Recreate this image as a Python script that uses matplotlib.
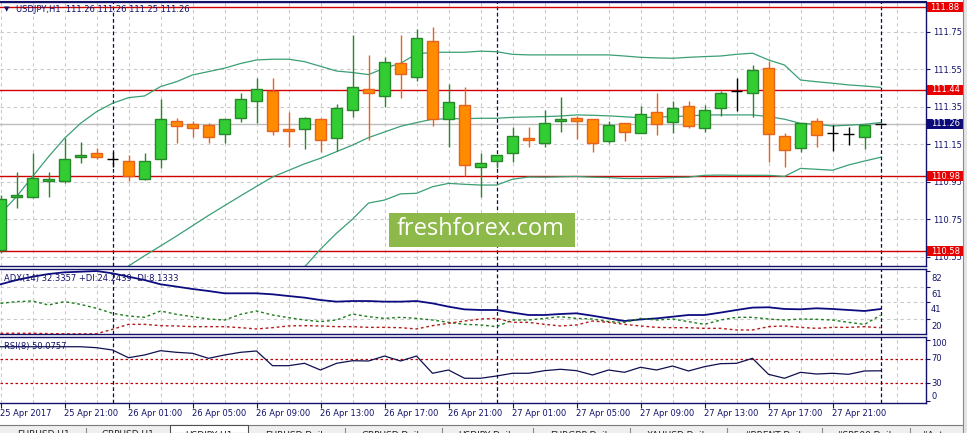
import numpy as np
import matplotlib
matplotlib.use("Agg")
import matplotlib.pyplot as plt
import matplotlib.transforms as mtransforms
from matplotlib.patches import Rectangle
from matplotlib.lines import Line2D

# ---------------- data ----------------
opens = [110.585, 110.866, 110.866, 110.955, 110.955, 111.080, 111.101, 111.069, 111.058, 110.966,
         111.069, 111.272, 111.259, 111.250, 111.203, 111.288, 111.379, 111.434, 111.231, 111.229,
         111.284, 111.181, 111.331, 111.443, 111.409, 111.581, 111.510, 111.702, 111.283, 111.361,
         111.026, 111.058, 111.101, 111.183, 111.158, 111.272, 111.288, 111.283, 111.169, 111.261,
         111.208, 111.322, 111.270, 111.352, 111.238, 111.341, 111.435, 111.421, 111.555, 111.194,
         111.128, 111.274, 111.208, 111.204, 111.190, 111.260]
highs = [110.880, 111.003, 111.105, 111.003, 111.185, 111.160, 111.130, 111.110, 111.092, 111.103,
         111.391, 111.290, 111.274, 111.261, 111.283, 111.423, 111.501, 111.501, 111.322, 111.297,
         111.291, 111.364, 111.732, 111.626, 111.613, 111.732, 111.763, 111.777, 111.471, 111.453,
         111.101, 111.092, 111.242, 111.242, 111.332, 111.400, 111.299, 111.283, 111.272, 111.261,
         111.354, 111.425, 111.380, 111.380, 111.359, 111.434, 111.505, 111.572, 111.596, 111.208,
         111.261, 111.291, 111.250, 111.243, 111.250, 111.263]
lows = [110.570, 110.808, 110.862, 110.866, 110.945, 111.048, 111.069, 111.026, 110.955, 110.960,
        111.025, 111.158, 111.190, 111.158, 111.158, 111.270, 111.261, 111.201, 111.137, 111.126,
        111.110, 111.115, 111.297, 111.172, 111.350, 111.398, 111.487, 111.247, 111.137, 110.980,
        110.870, 111.021, 111.057, 111.137, 111.137, 111.217, 111.180, 111.110, 111.158, 111.169,
        111.208, 111.199, 111.208, 111.238, 111.217, 111.300, 111.327, 111.297, 111.057, 111.026,
        111.110, 111.137, 111.115, 111.146, 111.126, 111.255]
closes = [110.858, 110.879, 110.968, 110.966, 111.069, 111.090, 111.080, 111.069, 110.979, 111.058,
          111.283, 111.249, 111.238, 111.190, 111.283, 111.390, 111.443, 111.219, 111.219, 111.288,
          111.171, 111.341, 111.453, 111.421, 111.590, 111.523, 111.715, 111.286, 111.373, 111.037,
          111.048, 111.090, 111.192, 111.171, 111.261, 111.283, 111.272, 111.158, 111.250, 111.217,
          111.309, 111.259, 111.341, 111.249, 111.331, 111.421, 111.435, 111.546, 111.203, 111.119,
          111.261, 111.201, 111.208, 111.204, 111.250, 111.260]

nan = float("nan")
bb_upper = [110.78, 110.87, 110.977, 111.083, 111.181, 111.261, 111.323, 111.368, 111.398, 111.407,
            111.457, 111.483, 111.519, 111.537, 111.555, 111.580, 111.599, 111.603, 111.603, 111.590,
            111.565, 111.540, 111.532, 111.521, 111.555, 111.581, 111.631, 111.640, 111.640, 111.640,
            111.646, 111.643, 111.629, 111.626, 111.626, 111.626, 111.626, 111.626, 111.626, 111.620,
            111.613, 111.610, 111.608, 111.613, 111.617, 111.620, 111.629, 111.635, 111.599, 111.572,
            111.492, 111.483, 111.475, 111.466, 111.460, 111.453]
bb_middle = [nan, nan, nan, nan, nan, nan, nan, 110.45, 110.50, 110.555,
             110.607, 110.66, 110.715, 110.77, 110.822, 110.874, 110.925, 110.975, 111.01, 111.045,
             111.075, 111.11, 111.145, 111.185, 111.215, 111.245, 111.265, 111.283, 111.285, 111.286,
             111.288, 111.288, 111.293, 111.295, 111.297, 111.300, 111.306, 111.304, 111.301, 111.296,
             111.291, 111.294, 111.297, 111.300, 111.306, 111.306, 111.306, 111.306, 111.297, 111.283,
             111.261, 111.256, 111.247, 111.251, 111.256, 111.265]
bb_lower = [nan] * 18 + [110.40, 110.495,
            110.59, 110.675, 110.75, 110.836, 110.852, 110.885, 110.888, 110.923, 110.941, 110.936,
            110.932, 110.932, 110.963, 110.975, 110.974, 110.976, 110.978, 110.974, 110.972, 110.967,
            110.967, 110.968, 110.972, 110.974, 110.984, 110.985, 110.984, 110.984, 110.984, 110.978,
            111.021, 111.016, 111.011, 111.039, 111.060, 111.080]

adx = [64.4, 69.9, 74.2, 77.7, 79.9, 80.7, 81.6, 78.6, 74.2, 69.9,
       64.4, 61.4, 58.3, 55.7, 52.7, 52.7, 52.7, 51.4, 49.2, 47.1,
       44.0, 41.9, 42.7, 42.7, 41.9, 41.9, 42.7, 39.7, 35.4, 31.9,
       31.1, 31.1, 27.7, 24.6, 24.6, 25.9, 26.8, 23.7, 20.2, 16.8,
       18.9, 20.2, 22.4, 24.6, 24.6, 27.7, 31.1, 34.2, 34.6, 32.4,
       32.0, 33.3, 32.4, 31.1, 29.8, 32.34]
plus_di = [39.7, 41.9, 42.7, 37.6, 41.9, 38.4, 33.3, 26.8, 23.3, 21.6,
           29.8, 25.5, 22.4, 19.4, 18.1, 25.5, 29.8, 24.6, 21.2, 18.1,
           16.0, 18.1, 25.9, 22.4, 20.2, 21.6, 20.2, 18.1, 15.1, 12.5,
           11.7, 9.5, 18.1, 18.1, 20.2, 22.4, 20.2, 19.4, 16.0, 15.1,
           20.2, 18.1, 19.4, 16.0, 12.5, 18.1, 21.6, 21.6, 19.4, 18.1,
           19.4, 19.0, 18.1, 15.1, 12.5, 24.24]
minus_di = [0.9, 0.9, 0.9, 0.5, 0.3, 0.2, 0.3, 6.1, 12.5, 12.5,
            10.8, 10.4, 9.5, 9.5, 9.5, 8.2, 6.5, 8.2, 10.4, 10.8,
            10.4, 9.5, 9.5, 8.6, 8.6, 8.2, 6.5, 10.8, 13.8, 16.8,
            19.4, 20.2, 15.1, 15.1, 12.5, 10.4, 11.7, 16.8, 15.1, 12.5,
            10.4, 8.6, 8.2, 8.2, 7.3, 7.3, 5.2, 5.2, 9.5, 10.4,
            8.6, 7.3, 8.6, 8.6, 9.5, 8.13]
rsi = [89.7, 89.7, 89.7, 89.7, 89.7, 89.7, 88.1, 84.3, 71.6, 76.1,
       83.2, 80.5, 78.9, 70.6, 76.1, 80.5, 82.7, 58.5, 58.5, 62.4,
       51.4, 62.4, 66.7, 66.2, 74.4, 66.2, 74.4, 46.0, 51.4, 37.8,
       37.8, 41.5, 46.0, 46.0, 50.3, 52.6, 50.3, 43.2, 51.4, 47.6,
       55.9, 51.4, 58.0, 49.8, 56.9, 61.8, 62.4, 70.6, 44.3, 37.8,
       47.6, 44.8, 46.0, 44.3, 49.8, 50.08]

red_levels = [111.88, 111.44, 110.98, 110.58]
current_price = 111.26
price_ticks = [110.55, 110.75, 110.95, 111.15, 111.35, 111.55, 111.75]
adx_ticks = [20, 41, 61, 82]
rsi_ticks = [0, 30, 70, 100]
rsi_levels = [70, 30]
day_separators = [7, 31, 55]
time_tick_bars = list(range(0, 56, 4))
time_labels = ["25 Apr 2017", "25 Apr 21:00", "26 Apr 01:00", "26 Apr 05:00", "26 Apr 09:00",
               "26 Apr 13:00", "26 Apr 17:00", "26 Apr 21:00", "27 Apr 01:00", "27 Apr 05:00",
               "27 Apr 09:00", "27 Apr 13:00", "27 Apr 17:00", "27 Apr 21:00"]
tab_names = ["EURUSD,H1", "GBPUSD,H1", "USDJPY,H1", "EURUSD,Daily", "GBPUSD,Daily",
             "USDJPY,Daily", "EURGBP,Daily", "XAUUSD,Daily", "#BRENT,Daily", "#SP500,Daily", "#Autos"]

# ---------------- style ----------------
NAVY = "#12126a"
GRID = "#c9c9c9"
GREEN_F, GREEN_E = "#32cd32", "#26882a"
ORANGE_F, ORANGE_E = "#ff8c00", "#e8621c"
BB = "#3a9f74"
RED = "#d00000"

W, H = 967, 433
fig = plt.figure(figsize=(W / 100, H / 100), dpi=100)
fig.patch.set_facecolor("white")


def rect(x0, y0, x1, y1):
    return [x0 / W, 1 - y1 / H, (x1 - x0) / W, (y1 - y0) / H]


ax = fig.add_axes(rect(0, 2, 926, 266))
ax_adx = fig.add_axes(rect(0, 269, 926, 334.3), sharex=ax)
ax_rsi = fig.add_axes(rect(0, 336.7, 926, 402.7), sharex=ax)

O = np.array(opens); Hh = np.array(highs); L = np.array(lows); C = np.array(closes)
n = len(O)
x = np.arange(n)

for a in (ax, ax_adx, ax_rsi):
    a.set_facecolor("white")
    for s in ("top", "bottom", "right"):
        a.spines[s].set_color(NAVY)
        a.spines[s].set_linewidth(1.0)
    a.spines["left"].set_visible(False)
    for xv in range(0, 58, 2):
        a.axvline(xv, color=GRID, lw=0.8, ls=(0, (3, 3)), zorder=0.5)
    for xv in day_separators:
        a.axvline(xv, color="#0a0a50", lw=0.9, ls=(0, (3, 2)), zorder=1.5)
    a.yaxis.tick_right()
    a.tick_params(axis="y", direction="out", length=3, width=0.8, colors=NAVY, labelsize=6, pad=2)

ax.set_xlim(-0.5 / 16, (926 - 0.5) / 16)

# ---- main price panel ----
ax.set_ylim(110.5004, 111.908)
for v in price_ticks:
    ax.axhline(v, color=GRID, lw=0.8, ls=(0, (3, 3)), zorder=0.5)
ax.set_yticks(price_ticks)
ax.set_yticklabels([f"{v:.2f}" for v in price_ticks])
ax.axhline(current_price, color="#bdbdbd", lw=1.0, zorder=1)
for v in red_levels:
    ax.axhline(v, color=RED, lw=1.0, zorder=2)

ax.plot(x, bb_upper, color=BB, lw=0.9, zorder=2.5)
ax.plot(x, bb_middle, color=BB, lw=0.9, zorder=2.5)
ax.plot(x, bb_lower, color=BB, lw=0.9, zorder=2.5)

up = C > O
dn = C < O
dj = C == O
bw = 0.66
ax.vlines(x[up], L[up], Hh[up], color=GREEN_E, lw=1.0, zorder=3)
ax.bar(x[up], (C - O)[up], bottom=O[up], width=bw, color=GREEN_F, edgecolor=GREEN_E, lw=1.0, zorder=4)
ax.vlines(x[dn], L[dn], Hh[dn], color=ORANGE_E, lw=1.0, zorder=3)
ax.bar(x[dn], (O - C)[dn], bottom=C[dn], width=bw, color=ORANGE_F, edgecolor=ORANGE_E, lw=1.0, zorder=4)
ax.vlines(x[dj], L[dj], Hh[dj], color="black", lw=1.0, zorder=4)
ax.hlines(O[dj], x[dj] - 0.34, x[dj] + 0.34, color="black", lw=1.0, zorder=4)

ax.tick_params(axis="x", length=0, labelbottom=False)

blend = mtransforms.blended_transform_factory(ax.transAxes, ax.transData)
box_h = 10 / 264 * (111.908 - 110.5004)
for v in red_levels + [current_price]:
    fc = "#0a0a78" if v == current_price else "#e80000"
    ax.add_patch(Rectangle((1.0012, v - box_h / 2), 36 / 926, box_h, transform=blend,
                           facecolor=fc, edgecolor="none", clip_on=False, zorder=6))
    ax.text(1.0012 + 18 / 926, v, f"{v:.2f}", transform=blend, ha="center", va="center",
            color="white", fontsize=6, clip_on=False, zorder=7)

# ---- ADX panel ----
ax_adx.set_ylim(-0.4, 84.2)
for v in adx_ticks[:3]:
    ax_adx.axhline(v, color=GRID, lw=0.8, ls=(0, (3, 3)), zorder=0.5)
ax_adx.plot(x, adx, color="#0c0c80", lw=1.3, zorder=3)
ax_adx.plot(x, plus_di, color="#1c7c1c", lw=1.0, ls=(0, (2, 2)), zorder=3)
ax_adx.plot(x, minus_di, color="#b41c1c", lw=1.0, ls=(0, (2, 2)), zorder=3)
ax_adx.set_yticks(adx_ticks)
ax_adx.set_yticklabels([])
ax_adx.tick_params(axis="x", length=0, labelbottom=False)
tb = mtransforms.blended_transform_factory(ax_adx.transAxes, ax_adx.transData)
tb = mtransforms.offset_copy(tb, fig=fig, x=0, y=-3, units="dots")
for v in adx_ticks:
    ax_adx.text(1.0 + 5 / 926, v, str(v), transform=tb, ha="left", va="top",
                color=NAVY, fontsize=6, clip_on=False)

# ---- RSI panel ----
ax_rsi.set_ylim(-2.4, 106.2)
for v in rsi_levels:
    ax_rsi.axhline(v, color="#c00000", lw=0.9, ls=(0, (2, 2)), zorder=1)
ax_rsi.plot(x, rsi, color="#101050", lw=0.9, zorder=3)
ax_rsi.set_yticks(rsi_ticks)
ax_rsi.set_yticklabels([])
rb = mtransforms.blended_transform_factory(ax_rsi.transAxes, ax_rsi.transData)
shifts = {100: -3.5, 70: 0, 30: 0, 0: 4.5}
for v in rsi_ticks:
    tr = mtransforms.offset_copy(rb, fig=fig, x=0, y=shifts[v], units="dots")
    ax_rsi.text(1.0 + 5 / 926, v, str(v), transform=tr, ha="left", va="center",
                color=NAVY, fontsize=6, clip_on=False)

ax_rsi.set_xticks(time_tick_bars)
ax_rsi.set_xticklabels(time_labels)
ax_rsi.tick_params(axis="x", direction="out", length=3.5, width=0.8, colors=NAVY, labelsize=6, pad=1)
for lab in ax_rsi.get_xticklabels():
    lab.set_ha("left")
ax.tick_params(axis="x", length=0, labelbottom=False)
ax_adx.tick_params(axis="x", length=0, labelbottom=False)

# ---- header texts ----
def ftext(px, py, s, **kw):
    fig.text(px / W, 1 - py / H, s, **kw)

ftext(4, 9, "\u25BC", fontsize=5, color=NAVY, va="center")
ftext(16, 9.5, "USDJPY,H1  111.26 111.26 111.25 111.26", fontsize=6, color=NAVY, va="center")
ftext(4, 278, "ADX(14) 32.3357 +DI:24.2439 -DI:8.1333", fontsize=6, color=NAVY, va="center")
ftext(4, 346, "RSI(8) 50.0757", fontsize=6, color=NAVY, va="center")

# ---- watermark ----
fig.add_artist(Rectangle((389 / W, 1 - 247 / H), (575 - 389) / W, 34 / H, transform=fig.transFigure,
                         facecolor="#8db84a", edgecolor="none", zorder=10))
fig.text(481 / W, 1 - 229 / H, "freshforex.com", family="Open Sans", fontsize=17, color="white",
         ha="center", va="center", zorder=11)

# ---- frame bits ----
fig.add_artist(Line2D([0, 926 / W], [1 - 0.5 / H, 1 - 0.5 / H], transform=fig.transFigure,
                      color=NAVY, lw=0.8))
fig.add_artist(Rectangle((963 / W, 0), 4 / W, 1, transform=fig.transFigure,
                         facecolor="#e4e4e4", edgecolor="none", zorder=9))
fig.add_artist(Line2D([963 / W, 963 / W], [0, 1], transform=fig.transFigure, color="#8a8a8a", lw=0.8, zorder=9))

# ---- tabs ----
fig.add_artist(Rectangle((0, 0), 963 / W, (433 - 424.7) / H, transform=fig.transFigure,
                         facecolor="#efefef", edgecolor="none", zorder=8))
fig.add_artist(Line2D([0, 963 / W], [1 - 424.7 / H] * 2, transform=fig.transFigure, color="#7a7a7a", lw=0.8, zorder=8.5))
fig.add_artist(Rectangle((170 / W, 0), (248 - 170) / W, (433 - 425.3) / H, transform=fig.transFigure,
                         facecolor="white", edgecolor="#505050", lw=0.8, zorder=8.6))
tab_edges = [0, 86, 170, 248, 345, 442, 533, 630, 727, 822, 910, 963]
for xe in [86, 345, 442, 533, 630, 727, 822, 910]:
    fig.add_artist(Line2D([xe / W] * 2, [0, 1 - 427.5 / H], transform=fig.transFigure,
                          color="#8a8a8a", lw=0.8, zorder=8.7))
for i, name in enumerate(tab_names):
    cx = (tab_edges[i] + tab_edges[i + 1]) / 2
    fig.text(cx / W, 1 - 430.5 / H, name, fontsize=6.5, color="#202020", ha="center", va="top", zorder=9)

fig.savefig("out.png", dpi=100)
